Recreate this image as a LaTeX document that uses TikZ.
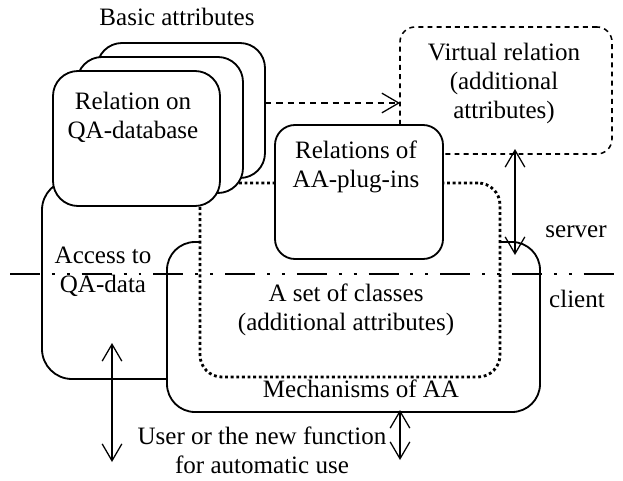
\documentclass[tikz,border=0pt]{standalone}
\usepackage{fontspec}
\setmainfont{Liberation Serif}
\usetikzlibrary{arrows.meta, positioning, fit}

\tikzset{
  box/.style={draw, line width=1.3pt, fill=white, inner sep=0pt, rounded corners=0.625cm},
  vbox/.style={box, line width=1.1pt, dash pattern=on 3.5pt off 3pt, rounded corners=0.375cm},
  setbox/.style={box, line width=2pt, dash pattern=on 2pt off 2pt, rounded corners=0.55cm},
  txt/.style={inner sep=0pt, align=center, font=\fontsize{17.8}{20.6}\selectfont},
  dbl/.style={line width=0.9pt, {Straight Barb[length=12pt,width=14pt]}-{Straight Barb[length=12pt,width=14pt]}},
  sepline/.style={line width=2.1pt, dash pattern=on 21.3pt off 8.5pt on 2.1pt off 8.5pt on 2.1pt off 8.5pt}
}

\begin{document}
\begin{tikzpicture}[x=0.025cm, y=-0.025cm]
  \useasboundingbox (0,0) rectangle (623,480);

  % virtual relation (server side)
  \node[vbox, fit={(400,27) (612,154)}] (virt) {};

  % client part
  \node[box, rounded corners=0.75cm, fit={(42,180) (215,379)}] (access) {};
  \node[box, rounded corners=0.7cm, fit={(167,242) (540,412)}] (mech) {};
  \node[setbox, fit={(200,183) (500,377)}] (classes) {};

  % plug-ins
  \node[box, rounded corners=0.5cm, fit={(275,125) (443,259)}] (plugins) {};

  % stack of basic relations
  \node[box, fit={(97,43) (265,178)}] (back) {};
  \node[box, fit={(77,57) (243,193)}] (middle) {};
  \node[box, fit={(53,71) (220,206)}] (front) {};

  % arrows
  \coordinate (dataOut) at (265,103);
  \coordinate (virtIn) at (400,103);
  \draw[line width=0.9pt, dash pattern=on 4.5pt off 3.5pt, -{Straight Barb[length=12pt,width=14pt]}] (dataOut) -- (virtIn);

  \coordinate (virtEnd) at (515,149);
  \coordinate (mechEnd) at (515,255);
  \draw[dbl] (virtEnd) -- (mechEnd);

  \coordinate (accEnd) at (112,343);
  \coordinate (userEnd) at (112,462);
  \draw[dbl] (accEnd) -- (userEnd);

  \coordinate (mechLow) at (400,410);
  \coordinate (funcEnd) at (400,460);
  \draw[dbl] (mechLow) -- (funcEnd);

  % server / client border
  \coordinate (sepL) at (10,274);
  \coordinate (sepR) at (623,274);
  \draw[sepline] (sepL) -- (sepR);

  % labels (base = last line)
  \node[txt, anchor=base] (basic) at (177,25) {Basic attributes};
  \node[txt, anchor=base] (relTxt) at (133,138) {Relation on\\QA-database};
  \node[txt, anchor=base] (virtTxt) at (504,118) {Virtual relation\\(additional\\attributes)};
  \node[txt, anchor=base] (plugTxt) at (356,187) {Relations of\\AA-plug-ins};
  \node[txt, anchor=base] (accTxt) at (103,292) {Access to\\QA-data};
  \node[txt, anchor=base] (setTxt) at (346,330) {A set of classes\\(additional attributes)};
  \node[txt, anchor=base] (mechTxt) at (361,397) {Mechanisms of AA};
  \node[txt, anchor=base] (userTxt) at (262,473) {User or the new function\\for automatic use};
  \node[txt, anchor=base] (server) at (576,237) {server};
  \node[txt, anchor=base] (client) at (577,307) {client};
\end{tikzpicture}
\end{document}
